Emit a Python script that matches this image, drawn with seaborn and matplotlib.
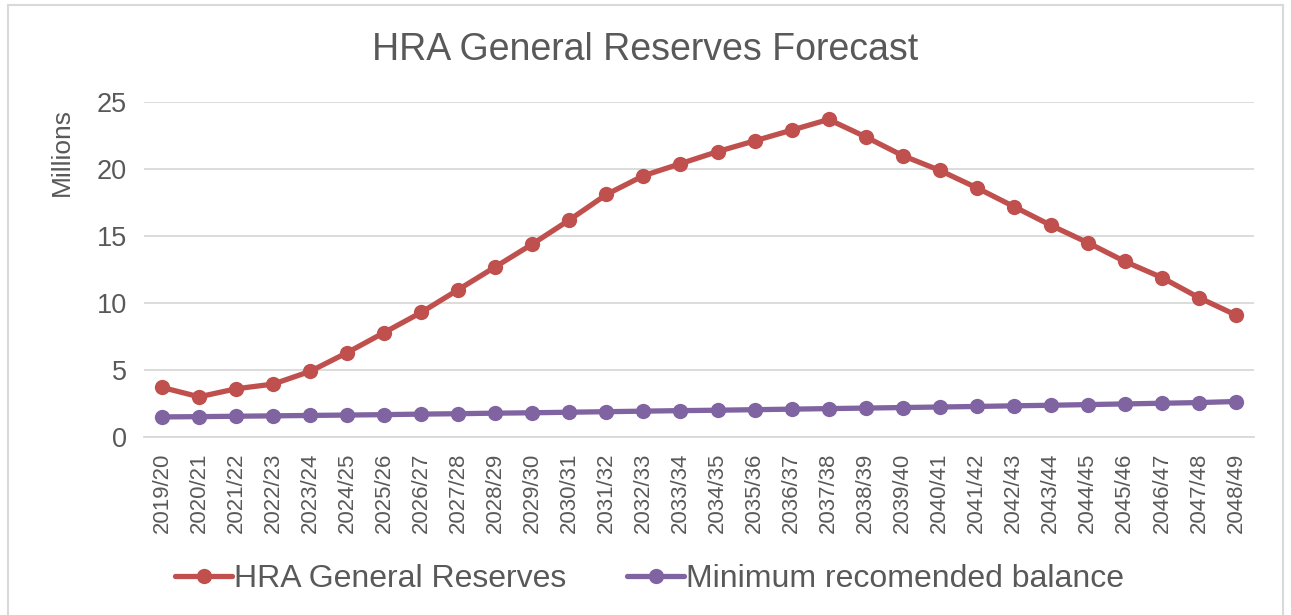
import matplotlib
matplotlib.use("Agg")
import matplotlib.pyplot as plt
import seaborn as sns
import pandas as pd
from matplotlib.patches import Rectangle

years = ["2019/20", "2020/21", "2021/22", "2022/23", "2023/24", "2024/25",
         "2025/26", "2026/27", "2027/28", "2028/29", "2029/30", "2030/31",
         "2031/32", "2032/33", "2033/34", "2034/35", "2035/36", "2036/37",
         "2037/38", "2038/39", "2039/40", "2040/41", "2041/42", "2042/43",
         "2043/44", "2044/45", "2045/46", "2046/47", "2047/48", "2048/49"]

hra_reserves = [3.7, 3.0, 3.6, 3.95, 4.9, 6.3, 7.8, 9.3, 11.0, 12.7, 14.4, 16.2,
                18.1, 19.5, 20.4, 21.3, 22.1, 22.9, 23.7, 22.4, 21.0, 19.9,
                18.6, 17.2, 15.8, 14.5, 13.1, 11.9, 10.4, 9.1]

min_balance = [1.5, 1.52, 1.55, 1.58, 1.61, 1.64, 1.67, 1.71, 1.74, 1.78, 1.81,
               1.85, 1.89, 1.93, 1.97, 2.0, 2.04, 2.08, 2.12, 2.16, 2.2, 2.24,
               2.28, 2.33, 2.37, 2.42, 2.47, 2.52, 2.57, 2.65]

series_names = ["HRA General Reserves", "Minimum recomended balance"]

df = pd.concat([
    pd.DataFrame({"year": years, "value": hra_reserves, "series": series_names[0]}),
    pd.DataFrame({"year": years, "value": min_balance, "series": series_names[1]}),
])

sns.set_style("white")
plt.rcParams["font.family"] = ["Liberation Sans", "DejaVu Sans"]
grey = "#595959"

fig = plt.figure(figsize=(12.91, 6.15), dpi=100)
ax = fig.add_axes([0.1112, 0.2894, 0.8605, 0.5447])

sns.lineplot(
    data=df, x="year", y="value", hue="series",
    palette=["#C0504D", "#8064A2"],
    marker="o", markersize=11, markeredgewidth=0,
    linewidth=3.8, ax=ax, sort=False,
)

ax.set_xlim(-0.5, len(years) - 0.5)
ax.set_ylim(0, 25)
ax.set_yticks([0, 5, 10, 15, 20, 25])
ax.set_xticks(range(len(years)))
ax.set_xticklabels(years, rotation=90, fontsize=16, color=grey)
ax.tick_params(axis="y", labelsize=19.5, colors=grey, length=0, pad=12)
ax.tick_params(axis="x", length=0, pad=11, colors=grey)
ax.grid(axis="y", color="#D9D9D9", linewidth=1.3)
ax.set_axisbelow(True)
for side in ["top", "right", "left"]:
    ax.spines[side].set_visible(False)
ax.spines["bottom"].set_color("#D9D9D9")
ax.spines["bottom"].set_linewidth(1.3)

ax.set_xlabel("")
ax.set_ylabel("Millions", fontsize=19, color=grey)
ax.yaxis.set_label_coords(-0.063, 0.85)

fig.text(0.5, 0.918, "HRA General Reserves Forecast", ha="center", va="center",
         fontsize=27, color=grey)

handles, labels = ax.get_legend_handles_labels()
ax.legend(handles, labels, loc="center", bbox_to_anchor=(0.503, 0.058),
          bbox_transform=fig.transFigure, ncol=2, frameon=False,
          fontsize=23, labelcolor=grey, handlelength=1.8, handletextpad=0.05,
          columnspacing=1.9)

fig.patches.append(Rectangle((8 / 1291, -0.1), 1275 / 1291, 1.1 - 5 / 615,
                             transform=fig.transFigure, fill=False,
                             edgecolor="#D9D9D9", linewidth=1.5))

fig.savefig("out.png", dpi=100)
